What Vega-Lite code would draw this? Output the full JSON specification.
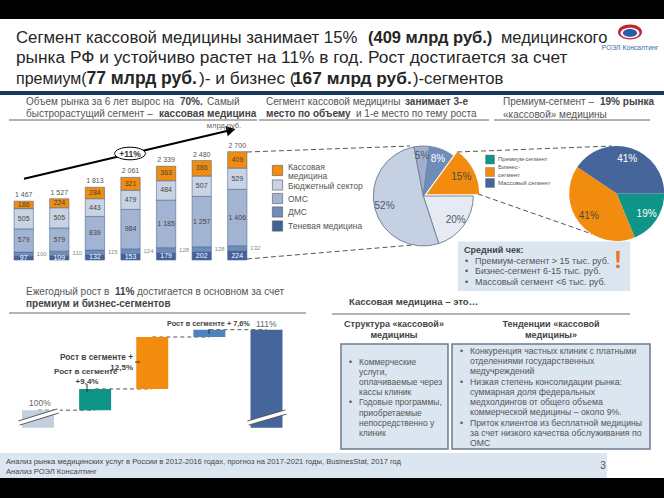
{
"$schema":"https://vega.github.io/schema/vega-lite/v6.json",
"width":664,"height":498,"padding":0,"autosize":{"type":"none"},
"background":"#000000",
"data":{"values":[{"slide":1}]},
"config":{"font":"Liberation Sans","view":{"stroke":null},"text":{"font":"Liberation Sans"},"axis":{"labelFont":"Liberation Sans"},"legend":{"labelFont":"Liberation Sans"}},
"datasets":{
"market":[
{"year":"2011","segment":"Теневая медицина","ord":1,"value":97},{"year":"2011","segment":"ДМС","ord":2,"value":100},{"year":"2011","segment":"ОМС","ord":3,"value":579},{"year":"2011","segment":"Бюджетный сектор","ord":4,"value":505},{"year":"2011","segment":"Кассовая медицина","ord":5,"value":186},
{"year":"2012","segment":"Теневая медицина","ord":1,"value":109},{"year":"2012","segment":"ДМС","ord":2,"value":110},{"year":"2012","segment":"ОМС","ord":3,"value":579},{"year":"2012","segment":"Бюджетный сектор","ord":4,"value":505},{"year":"2012","segment":"Кассовая медицина","ord":5,"value":224},
{"year":"2013","segment":"Теневая медицина","ord":1,"value":132},{"year":"2013","segment":"ДМС","ord":2,"value":115},{"year":"2013","segment":"ОМС","ord":3,"value":839},{"year":"2013","segment":"Бюджетный сектор","ord":4,"value":443},{"year":"2013","segment":"Кассовая медицина","ord":5,"value":284},
{"year":"2014","segment":"Теневая медицина","ord":1,"value":153},{"year":"2014","segment":"ДМС","ord":2,"value":124},{"year":"2014","segment":"ОМС","ord":3,"value":984},{"year":"2014","segment":"Бюджетный сектор","ord":4,"value":479},{"year":"2014","segment":"Кассовая медицина","ord":5,"value":321},
{"year":"2015","segment":"Теневая медицина","ord":1,"value":179},{"year":"2015","segment":"ДМС","ord":2,"value":128},{"year":"2015","segment":"ОМС","ord":3,"value":1185},{"year":"2015","segment":"Бюджетный сектор","ord":4,"value":484},{"year":"2015","segment":"Кассовая медицина","ord":5,"value":363},
{"year":"2016","segment":"Теневая медицина","ord":1,"value":202},{"year":"2016","segment":"ДМС","ord":2,"value":128},{"year":"2016","segment":"ОМС","ord":3,"value":1257},{"year":"2016","segment":"Бюджетный сектор","ord":4,"value":507},{"year":"2016","segment":"Кассовая медицина","ord":5,"value":386},
{"year":"2017","segment":"Теневая медицина","ord":1,"value":224},{"year":"2017","segment":"ДМС","ord":2,"value":132},{"year":"2017","segment":"ОМС","ord":3,"value":1406},{"year":"2017","segment":"Бюджетный сектор","ord":4,"value":529},{"year":"2017","segment":"Кассовая медицина","ord":5,"value":409}
],
"share":[{"seg":"Кассовая","ord":1,"pct":15},{"seg":"Бюджет","ord":2,"pct":20},{"seg":"ОМС","ord":3,"pct":52},{"seg":"ДМС","ord":4,"pct":5},{"seg":"Тень","ord":5,"pct":8}],
"cash":[{"seg":"Премиум-сегмент","ord":1,"pct":19},{"seg":"Бизнес-сегмент","ord":2,"pct":41},{"seg":"Массовый сегмент","ord":3,"pct":41}],
"bridge":[{"cat":"2016","from":97.6,"to":100,"kind":"2016"},{"cat":"Премиум- сегмент","from":100,"to":102.9,"kind":"Премиум"},{"cat":"Бизнес-сегмент","from":102.9,"to":110,"kind":"Бизнес"},{"cat":"Массовый сегмент","from":110,"to":111,"kind":"Массовый"},{"cat":"2017","from":97.6,"to":111,"kind":"2017"}],
"links":[{"id":1,"cat":"2016","v":100},{"id":1,"cat":"Премиум- сегмент","v":100},{"id":2,"cat":"Премиум- сегмент","v":102.9},{"id":2,"cat":"Бизнес-сегмент","v":102.9},{"id":3,"cat":"Бизнес-сегмент","v":110},{"id":3,"cat":"Массовый сегмент","v":110},{"id":4,"cat":"Массовый сегмент","v":111},{"id":4,"cat":"2017","v":111}]
},
"layer":[
{"mark":{"type":"rect","fill":"#ffffff"},"encoding":{"x":{"value":0},"x2":{"value":664},"y":{"value":19},"y2":{"value":478}}},
{"mark":{"type":"rect","fill":"#DCE6F1"},"encoding":{"x":{"value":0},"x2":{"value":607},"y":{"value":453},"y2":{"value":478}}},
{"mark":{"type":"rect","fill":"#17375E"},"encoding":{"x":{"value":0},"x2":{"value":664},"y":{"value":91},"y2":{"value":95}}},
{"mark":{"type":"text","align":"left","fontSize":16.8,"color":"#262626","text":"Сегмент кассовой медицины занимает 15%"},"encoding":{"x":{"value":16},"y":{"value":37.5}}},
{"mark":{"type":"text","align":"left","fontSize":17.3,"color":"#262626","text":"рынка РФ и устойчиво растет на 11% в год. Рост достигается за счет"},"encoding":{"x":{"value":16},"y":{"value":58}}},
{"mark":{"type":"text","align":"left","fontSize":16,"color":"#262626","text":"премиум("},"encoding":{"x":{"value":16},"y":{"value":79}}},
{"mark":{"type":"text","align":"left","fontSize":16.5,"fontWeight":"bold","color":"#262626","text":"(409 млрд руб.)"},"encoding":{"x":{"value":368},"y":{"value":37.5}}},
{"mark":{"type":"text","align":"left","fontSize":16.5,"color":"#262626","text":"медицинского"},"encoding":{"x":{"value":501},"y":{"value":37.5}}},
{"mark":{"type":"text","align":"left","fontSize":17.5,"fontWeight":"bold","color":"#262626","text":"77 млрд руб."},"encoding":{"x":{"value":86.5},"y":{"value":79}}},
{"mark":{"type":"text","align":"left","fontSize":17.3,"color":"#262626","text":")- и бизнес ("},"encoding":{"x":{"value":199},"y":{"value":79}}},
{"mark":{"type":"text","align":"left","fontSize":17.3,"fontWeight":"bold","color":"#262626","text":"167 млрд руб."},"encoding":{"x":{"value":293},"y":{"value":79}}},
{"mark":{"type":"text","align":"left","fontSize":16.7,"color":"#262626","text":")-сегментов"},"encoding":{"x":{"value":413},"y":{"value":79}}},
{"mark":{"type":"point","filled":true,"fill":"#C8202F","opacity":1,"size":576,"shape":"M-1,0A1,0.62 0 1 1 1,0A1,0.62 0 1 1 -1,0Z"},"encoding":{"x":{"value":630},"y":{"value":32}}},
{"mark":{"type":"point","filled":true,"fill":"#ffffff","opacity":1,"size":360,"shape":"M-1,0A1,0.55 0 1 1 1,0A1,0.55 0 1 1 -1,0Z"},"encoding":{"x":{"value":630},"y":{"value":33}}},
{"mark":{"type":"point","filled":true,"fill":"#2A5CA8","opacity":1,"size":200,"shape":"M-1,0A1,0.55 0 1 1 1,0A1,0.55 0 1 1 -1,0Z"},"encoding":{"x":{"value":630},"y":{"value":33}}},
{"mark":{"type":"text","align":"center","fontSize":6.8,"color":"#3A6EA5","text":"РОЭЛ Консалтинг"},"encoding":{"x":{"value":630},"y":{"value":47.5}}},

{"data":{"values":[{"line":1,"t":"Объем рынка за 6 лет вырос на "},{"line":2,"t":"быстрорастущий сегмент –"}]},"mark":{"type":"text","align":"left","fontSize":10,"color":"#555555"},"encoding":{"x":{"value":26},"y":{"field":"line","type":"quantitative","scale":{"domain":[1,2],"range":[101.5,113.5]},"axis":null},"text":{"field":"t"}}},
{"mark":{"type":"text","align":"left","fontSize":10,"fontWeight":"bold","color":"#444444","text":"70%."},"encoding":{"x":{"value":180},"y":{"value":101.5}}},
{"mark":{"type":"text","align":"left","fontSize":10,"color":"#555555","text":"Самый"},"encoding":{"x":{"value":207},"y":{"value":101.5}}},
{"mark":{"type":"text","align":"left","fontSize":10,"fontWeight":"bold","color":"#444444","text":"кассовая медицина"},"encoding":{"x":{"value":159},"y":{"value":113.5}}},
{"mark":{"type":"rule","color":"#666666","strokeWidth":1},"encoding":{"x":{"value":9},"x2":{"value":257},"y":{"value":120}}},
{"mark":{"type":"text","align":"left","fontSize":10,"color":"#555555","text":"Сегмент кассовой медицины"},"encoding":{"x":{"value":266},"y":{"value":101.5}}},
{"mark":{"type":"text","align":"left","fontSize":10,"fontWeight":"bold","color":"#444444","text":"занимает 3-е"},"encoding":{"x":{"value":405},"y":{"value":101.5}}},
{"mark":{"type":"text","align":"left","fontSize":10,"fontWeight":"bold","color":"#444444","text":"место по объему"},"encoding":{"x":{"value":266},"y":{"value":113.5}}},
{"mark":{"type":"text","align":"left","fontSize":10,"color":"#555555","text":"и 1-е место по тему роста"},"encoding":{"x":{"value":356},"y":{"value":113.5}}},
{"mark":{"type":"rule","color":"#666666","strokeWidth":1},"encoding":{"x":{"value":259},"x2":{"value":489},"y":{"value":120}}},
{"data":{"values":[{"line":1,"t":"Премиум-сегмент –"},{"line":2,"t":"«кассовой» медицины"}]},"mark":{"type":"text","align":"left","fontSize":10,"color":"#555555"},"encoding":{"x":{"value":503},"y":{"field":"line","type":"quantitative","scale":{"domain":[1,2],"range":[101.5,114.5]},"axis":null},"text":{"field":"t"}}},
{"mark":{"type":"text","align":"left","fontSize":10,"fontWeight":"bold","color":"#444444","text":"19% рынка"},"encoding":{"x":{"value":600},"y":{"value":101.5}}},
{"mark":{"type":"rule","color":"#666666","strokeWidth":1},"encoding":{"x":{"value":494},"x2":{"value":650},"y":{"value":120}}},

{"mark":{"type":"rule","color":"#555555","strokeWidth":1,"strokeDash":[5,3]},"encoding":{"x":{"value":247},"y":{"value":152},"x2":{"value":410},"y2":{"value":146}}},
{"mark":{"type":"rule","color":"#555555","strokeWidth":1,"strokeDash":[5,3]},"encoding":{"x":{"value":247},"y":{"value":259},"x2":{"value":413},"y2":{"value":245}}},
{"mark":{"type":"rule","color":"#555555","strokeWidth":1,"strokeDash":[5,3]},"encoding":{"x":{"value":457},"y":{"value":152},"x2":{"value":612},"y2":{"value":146}}},
{"mark":{"type":"rule","color":"#555555","strokeWidth":1,"strokeDash":[5,3]},"encoding":{"x":{"value":478},"y":{"value":194},"x2":{"value":592},"y2":{"value":234}}},

{"data":{"name":"market"},
 "transform":[{"stack":"value","groupby":["year"],"sort":[{"field":"ord","order":"ascending"}],"as":["s0","s1"]},{"calculate":"(datum.s0+datum.s1)/2","as":"mid"},{"calculate":"replace(format(datum.value,','),',',' ')","as":"lab"},{"calculate":"replace(format(datum.s1,','),',',' ')","as":"tot"}],
 "encoding":{"x":{"field":"year","type":"nominal","title":null,"scale":{"type":"band","range":[5.9,255.1],"paddingInner":0.458,"paddingOuter":0.229},"axis":{"orient":"bottom","offset":-238,"ticks":false,"labelAngle":0,"labelFontSize":7,"labelColor":"#666666","labelPadding":8,"domainColor":"#777777","domainWidth":1.5}}},
 "layer":[
  {"mark":{"type":"bar","stroke":"#4F6B96","strokeWidth":0.6},"encoding":{"y":{"field":"s0","type":"quantitative","axis":null,"scale":{"domain":[0,2700],"range":[260,151.7]}},"y2":{"field":"s1"},"color":{"field":"segment","type":"nominal","legend":null,"scale":{"domain":["Кассовая медицина","Бюджетный сектор","ОМС","ДМС","Теневая медицина"],"range":["#F28C0F","#C9D3E4","#A3B4D3","#6E8DBB","#42629A"]}}}},
  {"transform":[{"filter":"datum.ord>2"}],"mark":{"type":"text","fontSize":7,"color":"#444444"},"encoding":{"y":{"field":"mid","type":"quantitative","axis":null,"scale":{"domain":[0,2700],"range":[260,151.7]}},"text":{"field":"lab"}}},
  {"transform":[{"filter":"datum.ord==1"}],"mark":{"type":"text","fontSize":7,"color":"#ffffff"},"encoding":{"y":{"field":"mid","type":"quantitative","axis":null,"scale":{"domain":[0,2700],"range":[260,151.7]}},"text":{"field":"lab"}}},
  {"transform":[{"filter":"datum.ord==2"}],"mark":{"type":"text","fontSize":6,"color":"#8a8a8a","dx":18},"encoding":{"y":{"field":"mid","type":"quantitative","axis":null,"scale":{"domain":[0,2700],"range":[260,151.7]}},"text":{"field":"lab"}}},
  {"transform":[{"filter":"datum.ord==5"}],"mark":{"type":"text","fontSize":7,"color":"#555555","dy":-6},"encoding":{"y":{"field":"s1","type":"quantitative","axis":null,"scale":{"domain":[0,2700],"range":[260,151.7]}},"text":{"field":"tot"}}}
 ]},
{"data":{"values":[{"segment":"Кассовая медицина","row":1},{"segment":"Бюджетный сектор","row":2},{"segment":"ОМС","row":3},{"segment":"ДМС","row":4},{"segment":"Теневая медицина","row":5}]},"mark":{"type":"point","shape":"square","filled":true,"opacity":1,"size":105,"stroke":"#555555","strokeWidth":0.6},"encoding":{"x":{"value":277.5},"y":{"field":"row","type":"quantitative","axis":null,"scale":{"domain":[1,2,3,4,5],"range":[170.5,185,198.5,212,226]}},"color":{"field":"segment","type":"nominal","legend":null,"scale":{"domain":["Кассовая медицина","Бюджетный сектор","ОМС","ДМС","Теневая медицина"],"range":["#F28C0F","#C9D3E4","#A3B4D3","#6E8DBB","#42629A"]}}}},
{"data":{"values":[{"t":"Кассовая","row":1},{"t":"медицина","row":2},{"t":"Бюджетный сектор","row":3},{"t":"ОМС","row":4},{"t":"ДМС","row":5},{"t":"Теневая медицина","row":6}]},"mark":{"type":"text","align":"left","fontSize":8.5,"color":"#555555"},"encoding":{"x":{"value":288},"y":{"field":"row","type":"quantitative","axis":null,"scale":{"domain":[1,2,3,4,5,6],"range":[166.5,176,185.5,198.5,212,226]}},"text":{"field":"t"}}},
{"mark":{"type":"rule","color":"#000000","strokeWidth":2},"encoding":{"x":{"value":24},"y":{"value":178.7},"x2":{"value":229},"y2":{"value":130.5}}},
{"mark":{"type":"point","filled":true,"fill":"#000000","opacity":1,"shape":"triangle-right","size":110,"angle":-13},"encoding":{"x":{"value":231},"y":{"value":130}}},
{"mark":{"type":"point","filled":true,"fill":"#ffffff","stroke":"#000000","strokeWidth":1,"opacity":1,"size":942,"shape":"M-1,0A1,0.41 0 1 1 1,0A1,0.41 0 1 1 -1,0Z"},"encoding":{"x":{"value":130},"y":{"value":153.5}}},
{"mark":{"type":"text","fontSize":8.5,"fontWeight":"bold","color":"#333333","text":"+11%"},"encoding":{"x":{"value":130},"y":{"value":153.5}}},
{"mark":{"type":"text","fontSize":7.5,"color":"#666666","text":"млрд руб."},"encoding":{"x":{"value":224},"y":{"value":126}}},

{"data":{"name":"share"},
 "transform":[{"stack":"pct","sort":[{"field":"ord","order":"ascending"}],"as":["p0","p1"]},{"calculate":"(datum.p0+datum.p1)/2","as":"pm"},{"calculate":"datum.pct+'%'","as":"lab"}],
 "layer":[
  {"transform":[{"filter":"datum.ord>1"}],"mark":{"type":"arc","stroke":"#75859C","strokeWidth":1},"encoding":{"x":{"value":423.3},"y":{"value":196},"radius":{"value":50},"theta":{"field":"p0","type":"quantitative","scale":{"domain":[0,100],"range":[0.6283,6.9115]}},"theta2":{"field":"p1"},"color":{"field":"seg","type":"nominal","legend":null,"scale":{"domain":["Кассовая","Бюджет","ОМС","ДМС","Тень"],"range":["#F28C0F","#E6EBF3","#C5D0E2","#9FB0CE","#6E8DBB"]}}}},
  {"transform":[{"filter":"datum.ord==1"}],"mark":{"type":"arc","stroke":"#E88A10","strokeWidth":0.5},"encoding":{"x":{"value":427},"y":{"value":194},"radius":{"value":52},"theta":{"field":"p0","type":"quantitative","scale":{"domain":[0,100],"range":[0.6283,6.9115]}},"theta2":{"field":"p1"},"color":{"field":"seg","type":"nominal","legend":null,"scale":{"domain":["Кассовая","Бюджет","ОМС","ДМС","Тень"],"range":["#F28C0F","#E6EBF3","#C5D0E2","#9FB0CE","#6E8DBB"]}}}},
  {"transform":[{"filter":"datum.ord>1 && datum.ord!=5"}],"mark":{"type":"text","fontSize":10,"color":"#4f5b6b"},"encoding":{"x":{"value":423.3},"y":{"value":196},"radius":{"value":40},"theta":{"field":"pm","type":"quantitative","scale":{"domain":[0,100],"range":[0.6283,6.9115]}},"text":{"field":"lab"}}},
  {"transform":[{"filter":"datum.ord==5"}],"mark":{"type":"text","fontSize":10,"color":"#ffffff"},"encoding":{"x":{"value":423.3},"y":{"value":196},"radius":{"value":40},"theta":{"field":"pm","type":"quantitative","scale":{"domain":[0,100],"range":[0.6283,6.9115]}},"text":{"field":"lab"}}},
  {"transform":[{"filter":"datum.ord==1"}],"mark":{"type":"text","fontSize":10,"color":"#4f4a3a"},"encoding":{"x":{"value":427},"y":{"value":194},"radius":{"value":38.5},"theta":{"field":"pm","type":"quantitative","scale":{"domain":[0,100],"range":[0.6283,6.9115]}},"text":{"field":"lab"}}}
 ]},

{"data":{"name":"cash"},
 "transform":[{"stack":"pct","sort":[{"field":"ord","order":"ascending"}],"as":["p0","p1"]},{"calculate":"(datum.p0+datum.p1)/2","as":"pm"},{"calculate":"datum.pct+'%'","as":"lab"}],
 "encoding":{"x":{"value":616.7},"y":{"value":193.5}},
 "layer":[
  {"mark":{"type":"arc"},"encoding":{"radius":{"value":47.5},"theta":{"field":"p0","type":"quantitative","scale":{"domain":[0,101],"range":[1.5708,7.854]}},"theta2":{"field":"p1"},"color":{"field":"seg","type":"nominal","legend":null,"scale":{"domain":["Премиум-сегмент","Бизнес-сегмент","Массовый сегмент"],"range":["#0F9488","#F28C0F","#46659A"]}}}},
  {"transform":[{"filter":"datum.ord!=2"}],"mark":{"type":"text","fontSize":10,"color":"#ffffff"},"encoding":{"radius":{"value":36},"theta":{"field":"pm","type":"quantitative","scale":{"domain":[0,101],"range":[1.5708,7.854]}},"text":{"field":"lab"}}},
  {"transform":[{"filter":"datum.ord==2"}],"mark":{"type":"text","fontSize":10,"color":"#4f4a3a"},"encoding":{"radius":{"value":36},"theta":{"field":"pm","type":"quantitative","scale":{"domain":[0,101],"range":[1.5708,7.854]}},"text":{"field":"lab"}}}
 ]},
{"data":{"values":[{"seg":"Премиум-сегмент","row":1},{"seg":"Бизнес-сегмент","row":2},{"seg":"Массовый сегмент","row":3}]},"mark":{"type":"point","shape":"square","filled":true,"opacity":1,"size":80,"stroke":"#666666","strokeWidth":0.4},"encoding":{"x":{"value":490},"y":{"field":"row","type":"quantitative","axis":null,"scale":{"domain":[1,2,3],"range":[159.5,172,183]}},"color":{"field":"seg","type":"nominal","legend":null,"scale":{"domain":["Премиум-сегмент","Бизнес-сегмент","Массовый сегмент"],"range":["#0F9488","#F28C0F","#46659A"]}}}},
{"data":{"values":[{"t":"Премиум-сегмент","row":1},{"t":"Бизнес-","row":2},{"t":"сегмент","row":3},{"t":"Массовый сегмент","row":4}]},"mark":{"type":"text","align":"left","fontSize":6,"color":"#555555"},"encoding":{"x":{"value":498},"y":{"field":"row","type":"quantitative","axis":null,"scale":{"domain":[1,2,3,4],"range":[159,166.7,175,182.7]}},"text":{"field":"t"}}},

{"mark":{"type":"rect","fill":"#DCE6F1"},"encoding":{"x":{"value":458},"x2":{"value":630},"y":{"value":241.5},"y2":{"value":291}}},
{"mark":{"type":"text","align":"left","fontSize":9,"fontWeight":"bold","color":"#444444","text":"Средний чек:"},"encoding":{"x":{"value":464},"y":{"value":250}}},
{"data":{"values":[{"line":1,"t":"Премиум-сегмент > 15 тыс. руб."},{"line":2,"t":"Бизнес-сегмент 6-15 тыс. руб."},{"line":3,"t":"Массовый сегмент <6 тыс. руб."}]},"mark":{"type":"text","align":"left","fontSize":9,"color":"#555555"},"encoding":{"x":{"value":475},"y":{"field":"line","type":"quantitative","scale":{"domain":[1,3],"range":[260.5,281.5]},"axis":null},"text":{"field":"t"}}},
{"data":{"values":[{"line":1,"t":"•"},{"line":2,"t":"•"},{"line":3,"t":"•"}]},"mark":{"type":"text","align":"left","fontSize":9,"color":"#555555"},"encoding":{"x":{"value":465},"y":{"field":"line","type":"quantitative","scale":{"domain":[1,3],"range":[260.5,281.5]},"axis":null},"text":{"field":"t"}}},
{"mark":{"type":"text","fontSize":24,"fontWeight":"bold","color":"#E5752A","text":"!"},"encoding":{"x":{"value":618},"y":{"value":261}}},

{"mark":{"type":"text","align":"left","fontSize":10,"color":"#555555","text":"Ежегодный рост в"},"encoding":{"x":{"value":26},"y":{"value":292}}},
{"mark":{"type":"text","align":"left","fontSize":10,"fontWeight":"bold","color":"#444444","text":"11%"},"encoding":{"x":{"value":115},"y":{"value":292}}},
{"mark":{"type":"text","align":"left","fontSize":10,"color":"#555555","text":"достигается в основном за счет"},"encoding":{"x":{"value":137},"y":{"value":292}}},
{"mark":{"type":"text","align":"left","fontSize":10,"fontWeight":"bold","color":"#444444","text":"премиум и бизнес-сегментов"},"encoding":{"x":{"value":26},"y":{"value":304}}},
{"mark":{"type":"rule","color":"#666666","strokeWidth":1},"encoding":{"x":{"value":9},"x2":{"value":306},"y":{"value":313}}},
{"mark":{"type":"text","align":"left","fontSize":9.5,"fontWeight":"bold","color":"#444444","text":"Кассовая медицина – это…"},"encoding":{"x":{"value":349},"y":{"value":302}}},
{"mark":{"type":"rule","color":"#666666","strokeWidth":1},"encoding":{"x":{"value":332},"x2":{"value":630},"y":{"value":314}}},

{"encoding":{"x":{"field":"cat","type":"nominal","sort":null,"title":null,"scale":{"type":"band","domain":["2016","Премиум- сегмент","Бизнес-сегмент","Массовый сегмент","2017"],"range":[9.45,295.05],"paddingInner":0.44,"paddingOuter":0.22},"axis":{"orient":"bottom","offset":-70,"ticks":false,"domain":false,"labelAngle":0,"labelFontSize":6.5,"labelColor":"#666666","labelPadding":6,"labelLineHeight":9,"labelExpr":"split(datum.value,' ')"}}},
 "layer":[
  {"data":{"name":"links"},"mark":{"type":"line","color":"#555555","strokeWidth":1,"strokeDash":[4,3]},"encoding":{"detail":{"field":"id","type":"nominal"},"y":{"field":"v","type":"quantitative","axis":null,"scale":{"domain":[97.6,111],"range":[427.7,329.7]}}}},
  {"data":{"name":"bridge"},"mark":{"type":"bar"},"encoding":{"y":{"field":"from","type":"quantitative","axis":null,"scale":{"domain":[97.6,111],"range":[427.7,329.7]}},"y2":{"field":"to"},"color":{"field":"kind","type":"nominal","legend":null,"scale":{"domain":["2016","Премиум","Бизнес","Массовый","2017"],"range":["#C3CEDF","#0F9488","#F28C0F","#4F81BD","#46659A"]}}}}
 ]},
{"mark":{"type":"rule","color":"#555555","strokeWidth":5},"encoding":{"x":{"value":19},"y":{"value":423},"x2":{"value":58},"y2":{"value":411}}},
{"mark":{"type":"rule","color":"#ffffff","strokeWidth":3.4},"encoding":{"x":{"value":17},"y":{"value":423.6},"x2":{"value":60},"y2":{"value":410.4}}},
{"mark":{"type":"rule","color":"#555555","strokeWidth":5},"encoding":{"x":{"value":248},"y":{"value":423},"x2":{"value":286},"y2":{"value":412}}},
{"mark":{"type":"rule","color":"#ffffff","strokeWidth":3.4},"encoding":{"x":{"value":246},"y":{"value":423.6},"x2":{"value":288},"y2":{"value":411.4}}},
{"mark":{"type":"rule","color":"#333333","strokeWidth":1},"encoding":{"x":{"value":87},"x2":{"value":87},"y":{"value":384},"y2":{"value":392}}},
{"mark":{"type":"rule","color":"#333333","strokeWidth":1},"encoding":{"x":{"value":135},"x2":{"value":140},"y":{"value":362}}},
{"mark":{"type":"rule","color":"#333333","strokeWidth":1},"encoding":{"x":{"value":209},"x2":{"value":209},"y":{"value":329},"y2":{"value":334}}},
{"mark":{"type":"text","align":"right","fontSize":8.3,"fontWeight":"bold","color":"#444444","text":"Рост в сегменте +"},"encoding":{"x":{"value":133},"y":{"value":358}}},
{"mark":{"type":"text","align":"right","fontSize":8,"fontWeight":"bold","color":"#444444","text":"12,5%"},"encoding":{"x":{"value":133},"y":{"value":367.7}}},
{"mark":{"type":"text","align":"left","fontSize":8,"fontWeight":"bold","color":"#444444","text":"Рост в сегменте"},"encoding":{"x":{"value":54},"y":{"value":372}}},
{"mark":{"type":"text","align":"center","fontSize":8,"fontWeight":"bold","color":"#444444","text":"+9,4%"},"encoding":{"x":{"value":87},"y":{"value":381.7}}},
{"mark":{"type":"text","align":"left","fontSize":7.3,"fontWeight":"bold","color":"#444444","text":"Рост в сегменте + 7,6%"},"encoding":{"x":{"value":167},"y":{"value":324}}},
{"mark":{"type":"text","align":"left","fontSize":8.5,"color":"#666666","text":"111%"},"encoding":{"x":{"value":256},"y":{"value":324}}},
{"mark":{"type":"text","align":"left","fontSize":8.5,"color":"#666666","text":"100%"},"encoding":{"x":{"value":29},"y":{"value":402.7}}},

{"data":{"values":[{"line":1,"t":"Структура «кассовой»"},{"line":2,"t":"медицины"}]},"mark":{"type":"text","align":"center","fontSize":9,"fontWeight":"bold","color":"#444444"},"encoding":{"x":{"value":394},"y":{"field":"line","type":"quantitative","scale":{"domain":[1,2],"range":[324,335]},"axis":null},"text":{"field":"t"}}},
{"data":{"values":[{"line":1,"t":"Тенденции «кассовой"},{"line":2,"t":"медицины»"}]},"mark":{"type":"text","align":"center","fontSize":9,"fontWeight":"bold","color":"#444444"},"encoding":{"x":{"value":551},"y":{"field":"line","type":"quantitative","scale":{"domain":[1,2],"range":[324,335]},"axis":null},"text":{"field":"t"}}},
{"mark":{"type":"rect","fill":"#DCE6F1","stroke":"#6B7B8C","strokeWidth":1.5},"encoding":{"x":{"value":341},"x2":{"value":448},"y":{"value":344},"y2":{"value":449}}},
{"mark":{"type":"rect","fill":"#DCE6F1","stroke":"#6B7B8C","strokeWidth":1.5},"encoding":{"x":{"value":452},"x2":{"value":650},"y":{"value":344},"y2":{"value":449}}},
{"data":{"values":[{"line":1,"t":"Коммерческие"},{"line":2,"t":"услуги,"},{"line":3,"t":"оплачиваемые через"},{"line":4,"t":"кассы клиник"},{"line":5,"t":"Годовые программы,"},{"line":6,"t":"приобретаемые"},{"line":7,"t":"непосредственно у"},{"line":8,"t":"клиник"}]},"mark":{"type":"text","align":"left","fontSize":8.5,"color":"#555555"},"encoding":{"x":{"value":359},"y":{"field":"line","type":"quantitative","scale":{"domain":[1,8],"range":[361.7,433]},"axis":null},"text":{"field":"t"}}},
{"data":{"values":[{"line":1,"t":"•"},{"line":5,"t":"•"}]},"mark":{"type":"text","align":"left","fontSize":8.7,"color":"#555555"},"encoding":{"x":{"value":349},"y":{"field":"line","type":"quantitative","scale":{"domain":[1,8],"range":[361.7,433]},"axis":null},"text":{"field":"t"}}},
{"data":{"values":[{"line":1,"t":"Конкуренция частных клиник с платными"},{"line":2,"t":"отделениями государственных"},{"line":3,"t":"медучреждений"},{"line":4,"t":"Низкая степень консолидации рынка:"},{"line":5,"t":"суммарная доля федеральных"},{"line":6,"t":"медхолдингов от общего объема"},{"line":7,"t":"коммерческой медицины – около 9%."},{"line":8,"t":"Приток клиентов из бесплатной медицины"},{"line":9,"t":"за счет низкого качества обслуживания по"},{"line":10,"t":"ОМС"}]},"mark":{"type":"text","align":"left","fontSize":8.7,"color":"#555555"},"encoding":{"x":{"value":470},"y":{"field":"line","type":"quantitative","scale":{"domain":[1,10],"range":[351,443]},"axis":null},"text":{"field":"t"}}},
{"data":{"values":[{"line":1,"t":"•"},{"line":4,"t":"•"},{"line":8,"t":"•"}]},"mark":{"type":"text","align":"left","fontSize":8.7,"color":"#555555"},"encoding":{"x":{"value":460},"y":{"field":"line","type":"quantitative","scale":{"domain":[1,10],"range":[351,443]},"axis":null},"text":{"field":"t"}}},

{"data":{"values":[{"line":1,"t":"Анализ рынка медицинских услуг в России в 2012-2016 годах, прогноз на 2017-2021 годы, BusinesStat, 2017 год"},{"line":2,"t":"Анализ РОЭЛ Консалтинг"}]},"mark":{"type":"text","align":"left","fontSize":7.6,"color":"#444444"},"encoding":{"x":{"value":6},"y":{"field":"line","type":"quantitative","scale":{"domain":[1,2],"range":[461.7,472]},"axis":null},"text":{"field":"t"}}},
{"mark":{"type":"text","align":"center","fontSize":10,"color":"#555555","text":"3"},"encoding":{"x":{"value":603},"y":{"value":466}}}
],
"resolve":{"scale":{"x":"independent","y":"independent","color":"independent","theta":"independent"},"axis":{"x":"independent","y":"independent"},"legend":{"color":"independent"}}
}
